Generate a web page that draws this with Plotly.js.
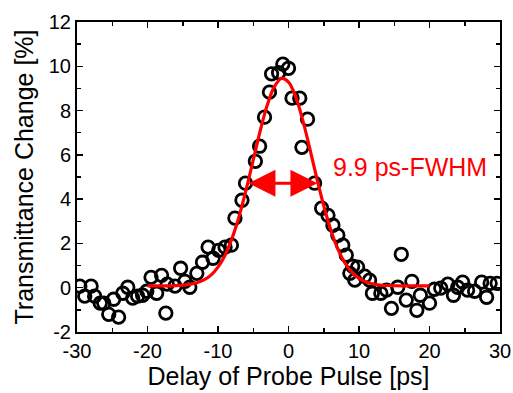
<!DOCTYPE html>
<html>
<head>
<meta charset="utf-8">
<script src="https://cdn.plot.ly/plotly-3.0.1.min.js"></script>
<style>html,body{margin:0;padding:0;background:#fff;}#chart{width:513px;height:393px;}</style>
</head>
<body>
<div id="chart"></div>
<script>
// Measured points: delay [ps] and transmittance change [%]
const delay = [-29.6,-28.9,-28.0,-27.5,-26.7,-26.2,-25.5,-24.8,-24.1,-23.5,-22.8,-22.1,-21.4,-20.7,-20.1,-19.5,-18.7,-18.0,-17.4,-17.2,-16.1,-15.3,-14.7,-14.0,-13.0,-12.2,-11.4,-10.7,-9.9,-9.0,-8.1,-7.6,-6.6,-6.1,-4.7,-4.1,-3.4,-2.7,-2.4,-1.4,-0.8,0.0,0.5,1.6,1.9,2.7,3.7,4.7,5.6,6.3,7.0,7.7,8.2,8.7,9.1,9.4,9.8,10.8,11.5,11.9,13.1,13.9,14.6,15.5,16.0,16.7,17.5,18.2,18.7,20.0,20.7,21.6,22.6,23.4,24.0,24.7,25.4,26.4,27.4,28.1,28.6,29.6];
const signal = [0.07,-0.38,0.07,-0.38,-0.70,-0.70,-1.20,-0.52,-1.33,-0.25,0.02,-0.47,-0.38,-0.34,-0.16,0.47,-0.25,0.56,-1.15,0.16,0.07,0.88,0.29,0.02,0.65,1.15,1.83,1.33,1.69,1.83,1.92,3.14,3.95,4.72,5.71,6.39,7.70,8.83,9.66,9.71,10.10,9.91,8.56,8.56,6.34,7.61,4.72,3.59,3.27,2.82,2.37,1.92,1.47,0.65,0.97,0.34,0.93,0.52,0.34,-0.25,-0.25,-0.11,-0.93,0.02,1.51,-0.56,0.29,-1.02,-0.34,-0.70,-0.07,-0.02,0.16,-0.34,0.02,0.25,-0.11,-0.16,0.25,-0.43,0.20,0.20];

// Fitted curve
const fitDelay = [-20,-18,-16,-14,-13,-12,-11,-10,-9,-8,-7,-6,-5,-4,-3,-2,-1,0,1,2,3,4,5,6,7,8,9,10,11,12,13,14,16,18,20];
const fitSignal = [0.08,0.08,0.09,0.15,0.22,0.35,0.57,0.93,1.47,2.24,3.23,4.44,5.77,7.10,8.26,9.08,9.45,9.29,8.64,7.59,6.31,4.96,3.70,2.61,1.75,1.12,0.70,0.42,0.26,0.17,0.12,0.10,0.08,0.08,0.08];

// Tick labels (plain hyphen minus as in the original)
const xTickVals = [-30,-20,-10,0,10,20,30];
const xTickText = ['-30','-20','-10','0','10','20','30'];
const xMinorVals = [-25,-15,-5,5,15,25];
const yTickVals = [-2,0,2,4,6,8,10,12];
const yTickText = ['-2','0','2','4','6','8','10','12'];
const yMinorVals = [-1,1,3,5,7,9,11];

// FWHM marker
const fwhmLabel = '9.9 ps-FWHM';
const fwhmStart = -5.9;
const fwhmEnd = 4.1;
const fwhmLevel = 4.72;
const labelX = 17.2;
const labelY = 5.45;

const xTitle = 'Delay of Probe Pulse [ps]';
const yTitle = 'Transmittance Change [%]';

const font = 'Liberation Sans, Arial, sans-serif';

const traces = [
  {x: delay, y: signal, type: 'scatter', mode: 'markers',
   marker: {symbol: 'circle-open', size: 12.5, color: '#000', line: {width: 2.8, color: '#000'}},
   showlegend: false, hoverinfo: 'skip'},
  {x: fitDelay, y: fitSignal, type: 'scatter', mode: 'lines',
   line: {color: '#ff0000', width: 3.2, shape: 'spline'},
   showlegend: false, hoverinfo: 'skip'}
];

const axisCommon = {
  showline: true, linecolor: '#000', linewidth: 2, mirror: 'allticks',
  ticks: 'inside', ticklen: 6, tickwidth: 1.5, tickcolor: '#000',
  showgrid: false, zeroline: false,
  tickfont: {family: font, size: 20, color: '#000'}
};

const layout = {
  width: 513, height: 393,
  margin: {l: 77, r: 13, t: 22, b: 61},
  paper_bgcolor: '#fff', plot_bgcolor: '#fff',
  font: {family: font, color: '#000'},
  xaxis: Object.assign({}, axisCommon, {
    range: [-30, 30], tickmode: 'array', tickvals: xTickVals, ticktext: xTickText,
    minor: {tickmode: 'array', tickvals: xMinorVals, ticks: 'inside', ticklen: 4, tickwidth: 1.5, tickcolor: '#000'},
    title: {text: xTitle, font: {family: font, size: 25, color: '#000'}, standoff: 6}
  }),
  yaxis: Object.assign({}, axisCommon, {
    range: [-2, 12], tickmode: 'array', tickvals: yTickVals, ticktext: yTickText,
    minor: {tickmode: 'array', tickvals: yMinorVals, ticks: 'inside', ticklen: 4, tickwidth: 1.5, tickcolor: '#000'},
    title: {text: yTitle, font: {family: font, size: 25, color: '#000'}, standoff: 8}
  }),
  annotations: [
    {x: fwhmEnd, y: fwhmLevel, ax: fwhmStart, ay: fwhmLevel, xref: 'x', yref: 'y', axref: 'x', ayref: 'y',
     text: '', showarrow: true, arrowside: 'end+start', arrowhead: 2, startarrowhead: 2,
     arrowsize: 1.8, startarrowsize: 1.8, arrowwidth: 3, arrowcolor: '#ff0000'},
    {x: labelX, y: labelY, xref: 'x', yref: 'y', text: fwhmLabel, showarrow: false,
     xanchor: 'center', yanchor: 'middle', font: {family: font, size: 25, color: '#ff0000'}}
  ]
};

Plotly.newPlot('chart', traces, layout, {displayModeBar: false, staticPlot: true});
</script>
</body>
</html>
